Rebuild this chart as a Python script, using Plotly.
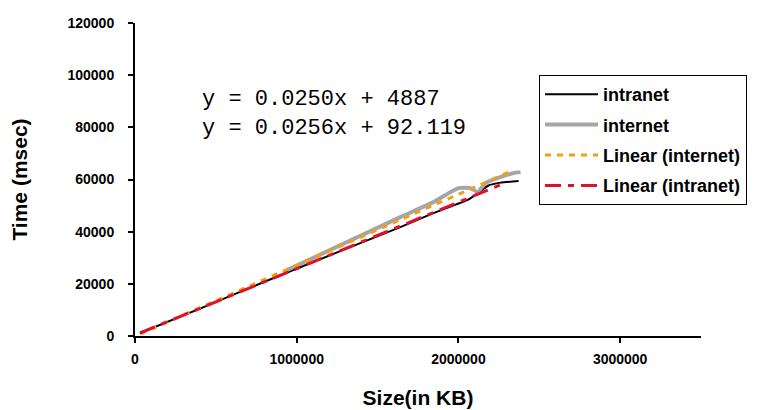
import plotly.graph_objects as go

# Data
intranet_x = [31000, 402000, 898000, 1641000, 1845000, 2060000, 2120000, 2186000, 2260000, 2372000]
intranet_y = [1150, 10500, 23300, 41760, 47130, 52300, 54800, 57700, 58800, 59400]

internet_x = [941000, 1641000, 1845000, 2000000, 2074000, 2118000, 2167000, 2241000, 2341000, 2384000]
internet_y = [25290, 45590, 51340, 56700, 56700, 55170, 58620, 60540, 62450, 62830]

lin_internet_x = [31000, 2341000]
lin_internet_y = [770, 63600]

lin_intranet_x = [31000, 2272000]
lin_intranet_y = [1150, 58240]

x_ticks = [0, 1000000, 2000000, 3000000]
y_ticks = [0, 20000, 40000, 60000, 80000, 100000, 120000]

eq1 = "y = 0.0250x + 4887"
eq2 = "y = 0.0256x + 92.119"

fig = go.Figure()
fig.add_trace(go.Scatter(x=intranet_x, y=intranet_y, mode="lines", name="intranet",
                         line=dict(color="black", width=2, shape="spline", smoothing=0.5),
                         legendgroup="a"))
fig.add_trace(go.Scatter(x=internet_x, y=internet_y, mode="lines", name="internet",
                         line=dict(color="#a6a6a6", width=4, shape="spline", smoothing=0.5),
                         legendgroup="b"))
fig.add_trace(go.Scatter(x=lin_internet_x, y=lin_internet_y, mode="lines", name="Linear (internet)",
                         line=dict(color="#f0a010", width=3, dash="6px,6px"),
                         legendgroup="c"))
fig.add_trace(go.Scatter(x=lin_intranet_x, y=lin_intranet_y, mode="lines", name="Linear (intranet)",
                         line=dict(color="#e0102f", width=3, dash="16px,7px,6px,7px"),
                         legendgroup="d"))

W, H = 757, 410
L, T, R, B = 135, 23, 56, 74
pw, ph = W - L - R, H - T - B

for txt, py in [(eq1, 99), (eq2, 128)]:
    fig.add_annotation(x=(200 - L) / pw, y=(H - B - py) / ph, xref="paper", yref="paper",
                       text=txt, showarrow=False, xanchor="left", yanchor="middle",
                       font=dict(family="Liberation Mono, Courier New, monospace", size=22, color="black"))

fig.update_layout(
    width=W, height=H,
    margin=dict(l=L, r=R, t=T, b=B, autoexpand=False),
    paper_bgcolor="white", plot_bgcolor="white",
    font=dict(family="Liberation Sans, Arial, sans-serif", color="black"),
    showlegend=True,
    legend=dict(x=(539 - L) / pw, y=(H - B - 75) / ph, xanchor="left", yanchor="top",
                bordercolor="black", borderwidth=1, bgcolor="white",
                font=dict(size=18, family="Liberation Sans, Arial, sans-serif", weight="bold"),
                itemwidth=53, tracegroupgap=4),
    xaxis=dict(range=[0, 3500000], tickvals=x_ticks, ticktext=[str(v) for v in x_ticks],
               automargin=False,
               showgrid=False, zeroline=False, showline=True, linecolor="black", linewidth=2,
               ticks="outside", ticklen=5, tickwidth=2, tickcolor="black", ticklabelstandoff=4,
               tickfont=dict(size=14, weight="bold"),
               title=dict(text="Size(in KB)", font=dict(size=21, weight="bold"), standoff=25)),
    yaxis=dict(range=[0, 120000], tickvals=y_ticks, ticktext=[str(v) for v in y_ticks],
               automargin=False,
               showgrid=False, zeroline=False, showline=True, linecolor="black", linewidth=2,
               ticks="outside", ticklen=5, tickwidth=2, tickcolor="black", ticklabelstandoff=11,
               tickfont=dict(size=14, weight="bold"),
               title=dict(text="Time (msec)", font=dict(size=21, weight="bold"), standoff=34)),
)

fig.write_html("out.html", config={"displayModeBar": False},
               post_script="document.body.style.margin='0';")
